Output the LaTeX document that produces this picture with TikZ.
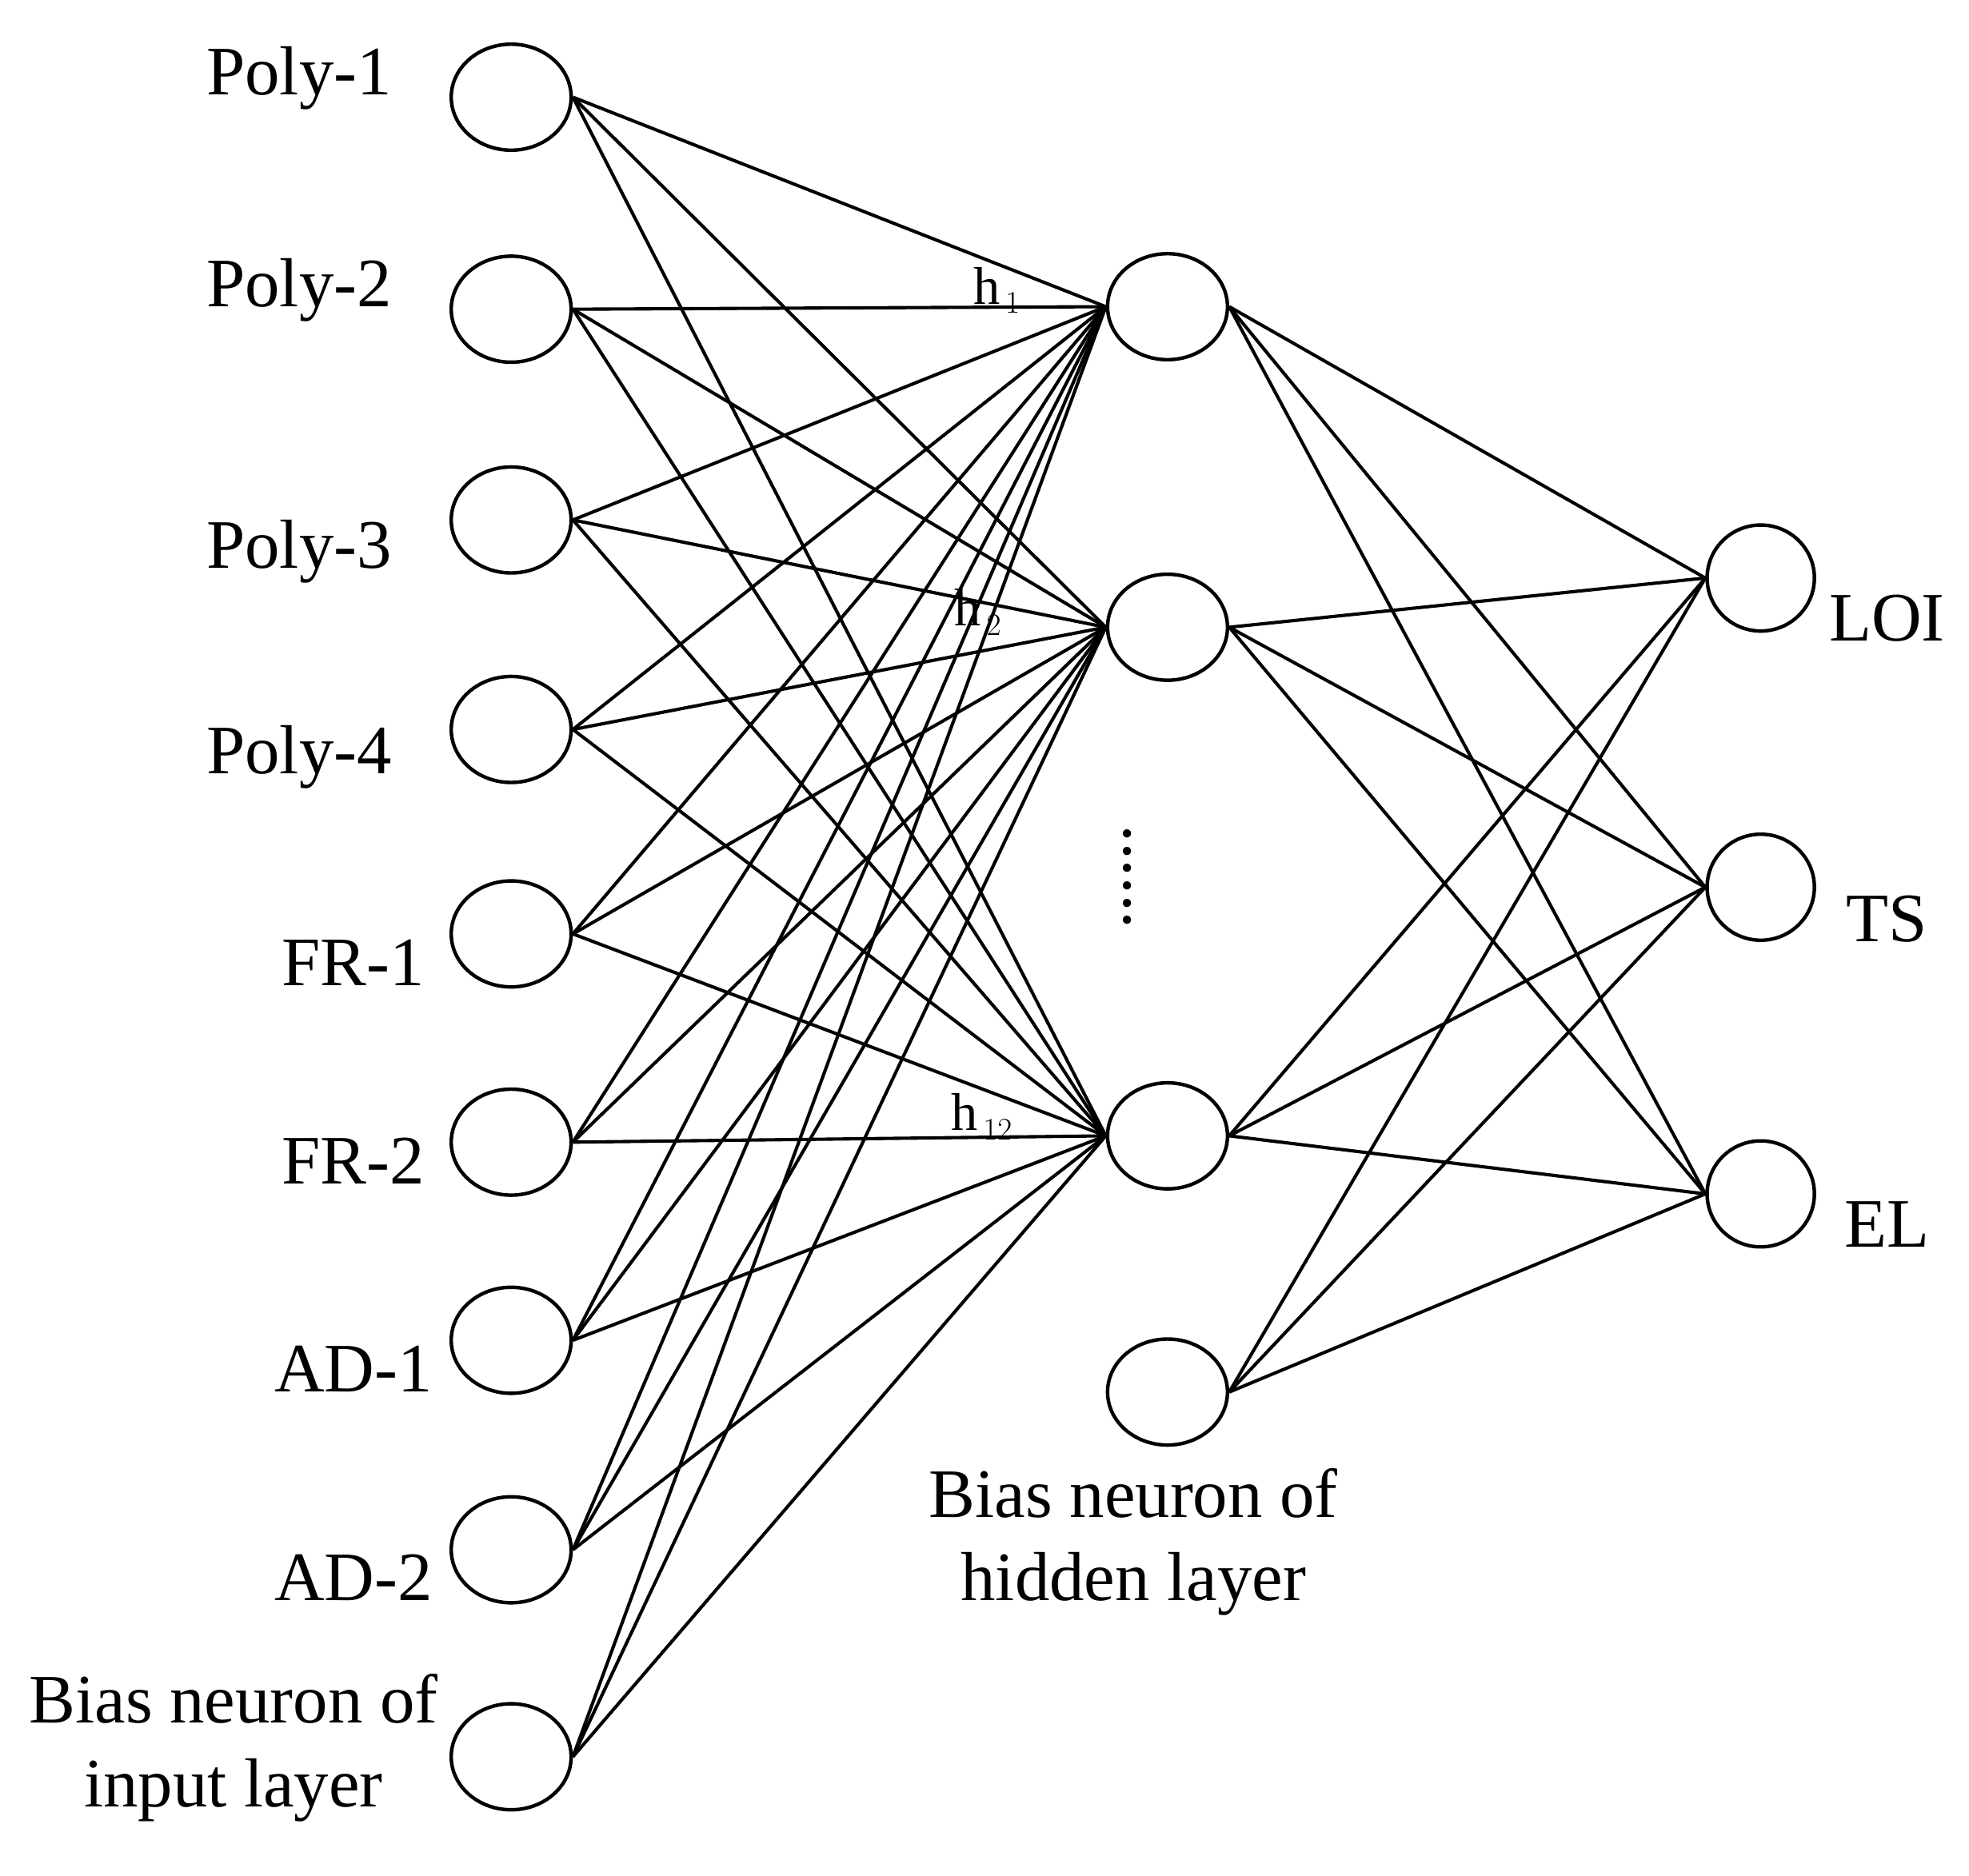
\documentclass[tikz,border=0pt]{standalone}
\usepackage{fontspec}
\setmainfont{Liberation Serif}
\usetikzlibrary{shapes.geometric,positioning}
\begin{document}
\begin{tikzpicture}[x=1pt,y=1pt,yscale=-1,
  neuron/.style={draw, ellipse, line width=2.8pt, minimum width=95pt, minimum height=84pt, inner sep=0pt},
  lbl/.style={font=\fontsize{55}{66}\selectfont},
  hlbl/.style={font=\fontsize{42}{50}\selectfont},
  link/.style={line width=2.6pt}]
  \useasboundingbox (0,0) rectangle (1560,1486);
  % input layer
  \foreach \n/\y in {i1/77,i2/245,i3/412,i4/578,i5/740,i6/905,i7/1062,i8/1228,i9/1392}
    \node[neuron] (\n) at (405,\y) {};
  % hidden layer
  \foreach \n/\y in {h1/243,h2/497,h3/900,hb/1103}
    \node[neuron] (\n) at (925,\y) {};
  % output layer
  \foreach \n/\y in {o1/458,o2/703,o3/946}
    \node[neuron, minimum width=85pt] (\n) at (1395,\y) {};
  % labels
  \node[lbl] at (237,62) {Poly-1};
  \node[lbl] at (237,230) {Poly-2};
  \node[lbl] at (237,437) {Poly-3};
  \node[lbl] at (237,600) {Poly-4};
  \node[lbl] at (280,763) {FR-1};
  \node[lbl] at (280,920) {FR-2};
  \node[lbl] at (280,1085) {AD-1};
  \node[lbl] at (280,1250) {AD-2};
  \node[lbl, align=center] at (185,1385) {Bias neuron of\\input layer};
  \node[lbl] at (1495,490) {LOI};
  \node[lbl] at (1495,728) {TS};
  \node[lbl] at (1495,970) {EL};
  \node[lbl, align=center] at (898,1222) {Bias neuron of\\hidden layer};
  \node[hlbl] at (790,230) {h$_{\,1}$};
  \node[hlbl] at (775,485) {h$_{\,2}$};
  \node[hlbl] at (778,885) {h$_{\,12}$};
  \node[lbl] at (893,695) {\rotatebox{90}{......}};
  % connections
  \foreach \a in {i1,i2,i3,i4,i5,i6,i7,i8,i9}
    \foreach \b in {h1,h2,h3}
      \draw[link] (\a.east) -- (\b.west);
  \foreach \a in {h1,h2,h3,hb}
    \foreach \b in {o1,o2,o3}
      \draw[link] (\a.east) -- (\b.west);
\end{tikzpicture}
\end{document}
